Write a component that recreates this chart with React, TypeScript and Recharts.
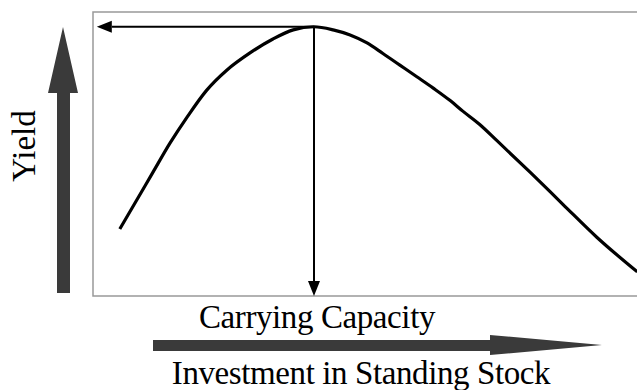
import { LineChart, Line, XAxis, YAxis, ReferenceArea, ReferenceLine } from 'recharts'

// Investment in standing stock (0-100 scale)
const stock = [
  4.9, 8.0, 11.0, 14.1, 17.2, 20.8, 24.5, 28.7, 32.9, 36.6, 40.4,
  43.9, 47.0, 50.1, 53.0, 56.1, 59.2, 62.2, 65.3, 67.6, 70.7, 73.9, 79.9, 85.9, 92.1, 99.5,
]
// Yield (0-100 scale)
const yieldValues = [
  23.6, 33.8, 43.7, 53.9, 63.0, 72.5, 79.6, 85.6, 90.5, 93.7, 94.8,
  93.7, 91.9, 89.1, 85.4, 81.3, 77.2, 73.2, 68.8, 65.1, 60.4, 54.6, 43.6, 32.3, 20.7, 8.5,
]
const carryingCapacity = 40.4
const maxYield = 94.8
const arrowTipX = 0.7

const labels = {
  y: 'Yield',
  capacity: 'Carrying Capacity',
  x: 'Investment in Standing Stock',
}

const data = stock.map((s, i) => ({ stock: s, yield: yieldValues[i] }))

const FONT = '"Liberation Serif", "Times New Roman", serif'

// line with a filled triangle at the (x2, y2) end
function ArrowLine(props: any) {
  const { x1, y1, x2, y2 } = props
  const len = Math.hypot(x2 - x1, y2 - y1) || 1
  const ux = (x2 - x1) / len
  const uy = (y2 - y1) / len
  const head = 15
  const half = 6
  const bx = x2 - ux * head
  const by = y2 - uy * head
  const pts = [
    `${x2},${y2}`,
    `${bx - uy * half},${by + ux * half}`,
    `${bx + uy * half},${by - ux * half}`,
  ].join(' ')
  return (
    <g>
      <line x1={x1} y1={y1} x2={bx} y2={by} stroke="#000" strokeWidth={2} />
      <polygon points={pts} fill="#000" />
    </g>
  )
}

function CapacityTick(props: any) {
  const { x, y } = props
  return (
    <text x={x + 3} y={y + 24} textAnchor="middle" fontFamily={FONT} fontSize={33} fill="#000" letterSpacing={-0.4}>
      {labels.capacity}
    </text>
  )
}

export default function App() {
  return (
    <div style={{ position: 'absolute', left: 0, top: 0, width: 637, height: 390, background: '#fff', overflow: 'hidden' }}>
      <LineChart width={637} height={390} data={data} margin={{ top: 12, right: -3, bottom: 54, left: 93 }}>
        <XAxis
          dataKey="stock"
          type="number"
          domain={[0, 100]}
          ticks={[carryingCapacity]}
          axisLine={false}
          tickLine={false}
          height={40}
          tick={<CapacityTick />}
        />
        <YAxis type="number" domain={[0, 100]} hide />
        <ReferenceArea x1={0} x2={100} y1={0} y2={100} fill="none" stroke="#999" strokeWidth={1.5} ifOverflow="visible" />
        <ReferenceLine
          segment={[{ x: carryingCapacity, y: maxYield }, { x: carryingCapacity, y: 0 }]}
          shape={ArrowLine}
          ifOverflow="visible"
        />
        <ReferenceLine
          segment={[{ x: carryingCapacity, y: maxYield }, { x: arrowTipX, y: maxYield }]}
          shape={ArrowLine}
          ifOverflow="visible"
        />
        <Line
          dataKey="yield"
          type="monotone"
          stroke="#000"
          strokeWidth={3.2}
          dot={false}
          isAnimationActive={false}
        />
      </LineChart>
      <svg width={637} height={390} style={{ position: 'absolute', left: 0, top: 0, pointerEvents: 'none' }}>
        <polygon points="57,293 70,293 70,93 78,93 63,27 48,93 57,93" fill="#3a3a3a" />
        <polygon points="153,340 490,340 490,335 602,345 490,355 490,351 153,351" fill="#3a3a3a" />
        <text transform="translate(35,146) rotate(-90)" textAnchor="middle" fontFamily={FONT} fontSize={33} fill="#000">
          {labels.y}
        </text>
        <text x={361} y={384} textAnchor="middle" fontFamily={FONT} fontSize={33} fill="#000" letterSpacing={-0.4}>
          {labels.x}
        </text>
      </svg>
    </div>
  )
}
